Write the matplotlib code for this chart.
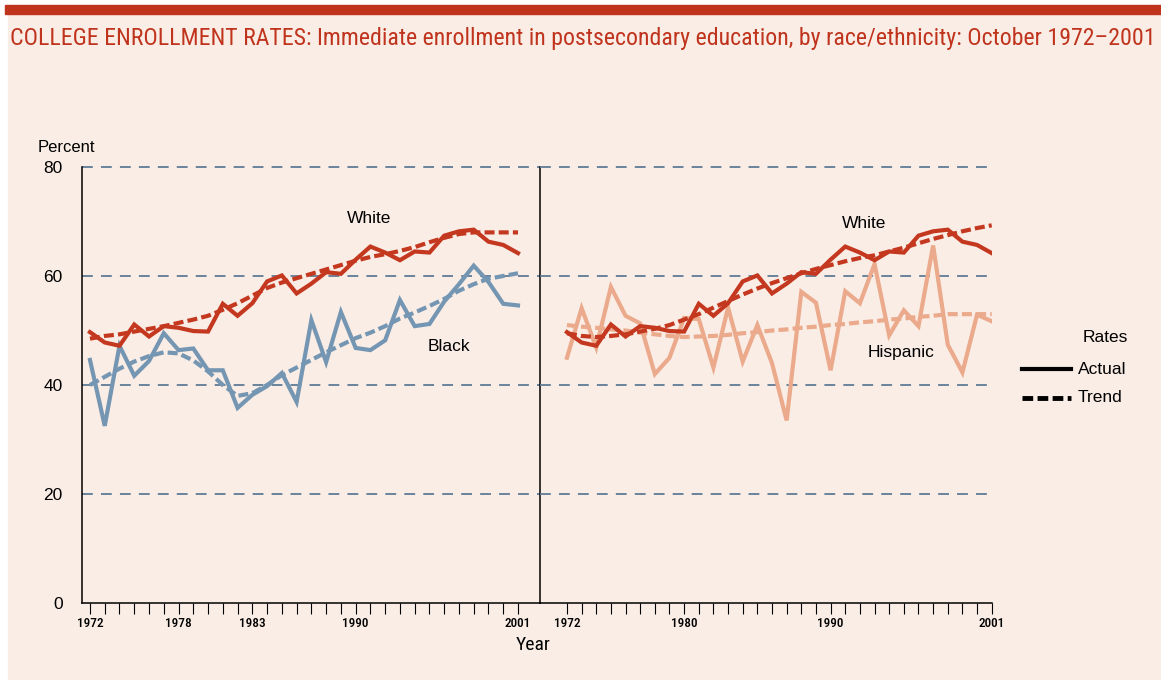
import matplotlib.pyplot as plt
from matplotlib.lines import Line2D
from matplotlib.patches import Rectangle
from matplotlib import font_manager

years = list(range(1972, 2002))

white_actual = [49.7, 47.8, 47.2, 51.1, 48.9, 50.8, 50.5, 49.9, 49.8, 54.9,
                52.7, 55.0, 59.0, 60.1, 56.8, 58.6, 60.7, 60.4, 63.0, 65.4,
                64.3, 62.9, 64.5, 64.3, 67.4, 68.2, 68.5, 66.3, 65.7, 64.2]
black_actual = [44.6, 32.5, 47.2, 41.7, 44.4, 49.5, 46.4, 46.7, 42.7, 42.7,
                35.8, 38.2, 39.8, 42.2, 36.9, 51.9, 44.2, 53.4, 46.8, 46.4,
                48.2, 55.6, 50.8, 51.2, 55.3, 58.5, 61.9, 58.9, 54.9, 54.6]
hispanic_actual = [45.0, 54.1, 46.9, 58.0, 52.7, 51.3, 42.0, 45.0, 52.3, 52.1,
                   43.2, 54.2, 44.3, 51.0, 44.0, 33.5, 57.1, 55.1, 42.7, 57.2,
                   55.0, 62.2, 49.1, 53.7, 50.8, 65.6, 47.4, 42.3, 52.9, 51.7]

white_trend_left = [48.5, 49.0, 49.3, 49.8, 50.3, 50.8, 51.4, 52.0, 52.7, 53.8,
                    55.0, 56.4, 57.8, 58.8, 59.6, 60.4, 61.2, 62.0, 62.8, 63.5,
                    64.0, 64.6, 65.3, 66.2, 67.0, 67.7, 68.0, 68.0, 68.0, 68.0]
black_trend = [40.0, 41.5, 43.0, 44.3, 45.3, 46.0, 45.8, 44.5, 42.5, 40.0,
               38.0, 38.5, 40.0, 41.8, 43.2, 44.6, 46.0, 47.3, 48.6, 49.6,
               50.8, 52.2, 53.3, 54.5, 55.8, 57.3, 58.5, 59.5, 60.0, 60.5]
white_trend_right = [49.5, 49.0, 48.8, 49.0, 49.3, 49.8, 50.3, 51.0, 52.0, 53.0,
                     54.2, 55.4, 56.6, 57.7, 58.7, 59.6, 60.5, 61.3, 62.0, 62.7,
                     63.3, 63.8, 64.5, 65.2, 66.0, 66.8, 67.5, 68.2, 68.8, 69.3]
hispanic_trend = [51.0, 50.7, 50.5, 50.2, 50.0, 49.6, 49.3, 49.0, 48.8, 48.9,
                  49.0, 49.2, 49.5, 49.7, 50.0, 50.2, 50.5, 50.7, 51.0, 51.2,
                  51.5, 51.7, 52.0, 52.2, 52.5, 52.7, 53.0, 53.0, 53.0, 53.0]

left_labels = [1972, 1978, 1983, 1990, 2001]
right_labels = [1972, 1980, 1990, 2001]
y_ticks = [0, 20, 40, 60, 80]

title = ("COLLEGE ENROLLMENT RATES: Immediate enrollment in postsecondary education, "
         "by race/ethnicity: October 1972\u20132001")

RED = "#C4381F"
BLUE = "#7596B2"
PEACH = "#EBAA8C"
GRID = "#5F7C96"
BG = "#FAEDE6"
sans = ["Liberation Sans", "DejaVu Sans"]

# pick a condensed face if one is installed
names = {f.name for f in font_manager.fontManager.ttflist}
narrow = sans
for cand in ["Liberation Sans Narrow", "Roboto Condensed", "Open Sans Condensed",
             "DejaVu Sans Condensed"]:
    if cand in names:
        narrow = [cand, "DejaVu Sans"]
        break
cond_stretch = "condensed" if narrow is sans else "normal"

fig = plt.figure(figsize=(11.61, 6.8), dpi=100, facecolor="white")
fig.patches.append(Rectangle((8 / 1161, 0.0), 1.0, 1 - 15 / 680,
                             transform=fig.transFigure, color=BG, zorder=-10))
fig.patches.append(Rectangle((5 / 1161, 1 - 14 / 680), 1.0, 9 / 680,
                             transform=fig.transFigure, color="#C0341D", zorder=-5))
t = fig.text(10 / 1161, 1 - 38 / 680, title, color="#C0341D", fontsize=19,
             family=narrow, stretch=cond_stretch, va="center", ha="left")
# shrink the title so it fits the width
fig.canvas.draw()
w = t.get_window_extent().width
if w > 1148:
    t.set_fontsize(19 * 1148 / w)

bottom = 77 / 680
height = 436 / 680
ax1 = fig.add_axes([82 / 1161, bottom, 458 / 1161, height])
ax2 = fig.add_axes([540 / 1161, bottom, 452 / 1161, height])

for ax in (ax1, ax2):
    ax.set_facecolor("none")
    ax.set_ylim(0, 80)
    for v in [20, 40, 60, 80]:
        ax.axhline(v, color=GRID, lw=1.3, ls=(0, (6, 4.5)), zorder=1, clip_on=False)
    ax.set_xticks(years, minor=True)
    ax.tick_params(axis="x", which="both", direction="out", length=8,
                   width=0.8, color="black", pad=2)
    ax.spines["top"].set_visible(False)

ax1.set_xlim(1971.46, 2002.49)
ax2.set_xlim(1970.16, 2001.02)
ax1.set_xticks(left_labels)
ax2.set_xticks(right_labels)
ax1.set_xticklabels([str(y) for y in left_labels], family=narrow,
                    stretch=cond_stretch, fontsize=9.5, weight="medium")
ax2.set_xticklabels([str(y) for y in right_labels], family=narrow,
                    stretch=cond_stretch, fontsize=9.5, weight="medium")

ax1.set_yticks(y_ticks)
ax1.set_yticklabels([str(v) for v in y_ticks], family=sans, fontsize=12.5)
ax1.tick_params(axis="y", length=0, pad=14)
ax2.set_yticks([])
ax2.spines["left"].set_visible(False)
ax2.spines["right"].set_visible(False)
for sp in ["left", "right", "bottom"]:
    ax1.spines[sp].set_color("black")
    ax1.spines[sp].set_linewidth(1.1)
ax2.spines["bottom"].set_linewidth(1.1)

lw = 3.0
dash = (0, (2.4, 1.0))
ax1.plot(years, white_actual, color=RED, lw=lw, zorder=4, solid_joinstyle="miter")
ax1.plot(years, white_trend_left, color=RED, lw=lw, ls=dash, zorder=4)
ax1.plot(years, black_actual, color=BLUE, lw=lw, zorder=3, solid_joinstyle="miter")
ax1.plot(years, black_trend, color=BLUE, lw=lw, ls=dash, zorder=3)

ax2.plot(years, hispanic_actual, color=PEACH, lw=lw, zorder=3, solid_joinstyle="miter")
ax2.plot(years, hispanic_trend, color=PEACH, lw=lw, ls=dash, zorder=3)
ax2.plot(years, white_actual, color=RED, lw=lw, zorder=4, solid_joinstyle="miter")
ax2.plot(years, white_trend_right, color=RED, lw=lw, ls=dash, zorder=4)

ax1.text(1990.9, 70.6, "White", fontsize=12.5, family=sans, ha="center", va="center")
ax1.text(1996.3, 47.0, "Black", fontsize=12.5, family=sans, ha="center", va="center")
ax2.text(1992.3, 69.7, "White", fontsize=12.5, family=sans, ha="center", va="center")
ax2.text(1994.8, 46.0, "Hispanic", fontsize=12.5, family=sans, ha="center", va="center")

fig.text(38 / 1161, 1 - 148 / 680, "Percent", fontsize=12, family=sans, va="center")
fig.text(533 / 1161, 1 - 645 / 680, "Year", fontsize=14, family=narrow,
         stretch=cond_stretch, ha="center", va="center")

fig.text(1105 / 1161, 1 - 337 / 680, "Rates", fontsize=12.5, family=sans,
         ha="center", va="center")
fig.add_artist(Line2D([1022 / 1161, 1071 / 1161], [1 - 369 / 680, 1 - 369 / 680],
                      transform=fig.transFigure, color="black", lw=3))
fig.add_artist(Line2D([1022 / 1161, 1071 / 1161], [1 - 398 / 680, 1 - 398 / 680],
                      transform=fig.transFigure, color="black", lw=3.5, ls=(0, (2.2, 0.9))))
fig.text(1078 / 1161, 1 - 369 / 680, "Actual", fontsize=12.5, family=sans, va="center")
fig.text(1078 / 1161, 1 - 398 / 680, "Trend", fontsize=12.5, family=sans, va="center")

fig.savefig("out.png", dpi=100, facecolor=fig.get_facecolor())
